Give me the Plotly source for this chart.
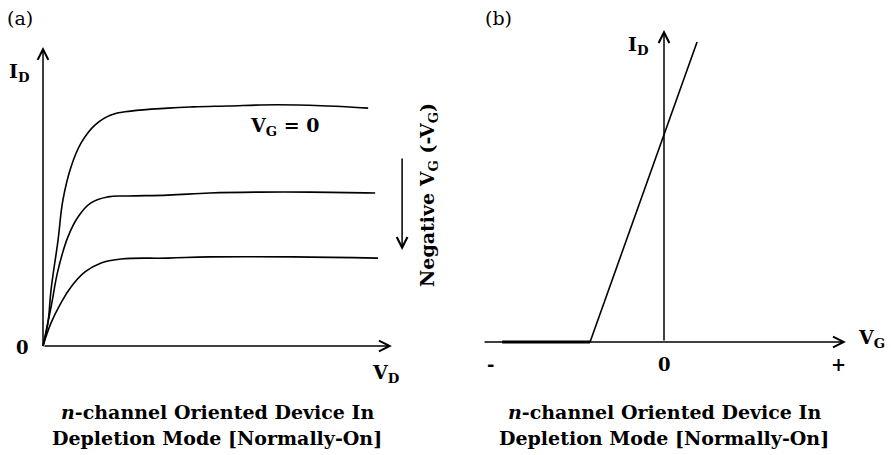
import plotly.graph_objects as go

W, H = 891, 455

# (a) Output characteristics: drain current vs drain voltage, one curve per gate bias
vd_top = [0, 0.14, 0.23, 0.43, 0.57, 0.80, 1.09, 1.49, 1.94, 2.51, 3.57, 4.29, 5.26, 6.69, 8.11, 9.29]
id_top = [0, 0.77, 1.87, 3.53, 4.87, 5.97, 6.77, 7.37, 7.70, 7.83, 7.93, 7.97, 8.00, 8.04, 8.00, 7.93]
vd_mid = [0, 0.23, 0.43, 0.71, 1.00, 1.37, 1.86, 2.43, 3.57, 4.77, 6.20, 7.63, 9.49]
id_mid = [0, 1.30, 2.53, 3.63, 4.30, 4.77, 4.97, 5.00, 5.03, 5.10, 5.13, 5.13, 5.10]
vd_low = [0, 0.23, 0.51, 0.80, 1.20, 1.66, 2.23, 3.57, 4.77, 7.14, 9.57]
id_low = [0, 0.77, 1.43, 1.97, 2.47, 2.77, 2.90, 2.93, 2.97, 2.97, 2.93]

# (b) Transfer characteristic: cut-off below pinch-off, then linear rise
vg_off = [-0.93, -0.425]
id_off = [0, 0]
vg_on = [-0.425, 0.19]
id_on = [0, 10]

# Axis extents (arrow tails and tips) in data units
a_x_axis = ([0, 9.97], [0, 0])
a_y_axis = ([0, 0], [0, 9.97])
b_x_axis = ([-1.04, 1.046], [0, 0])
b_y_axis = ([0, 0], [0, 10.4])
neg_vg_arrow = ([10.26, 10.26], [6.3, 3.2])

# Tick labels along the gate-voltage axis
b_tick_vals = [-1, 0, 1]
b_tick_text = ["-", "0", "+"]

FONT = "DejaVu Serif"
BLACK = "#000000"

fig = go.Figure()

for xs, ys in [(vd_top, id_top), (vd_mid, id_mid), (vd_low, id_low)]:
    fig.add_trace(go.Scatter(x=xs, y=ys, mode="lines",
                             line=dict(color=BLACK, width=1.6, shape="spline", smoothing=1.2),
                             xaxis="x", yaxis="y", hoverinfo="skip"))

fig.add_trace(go.Scatter(x=vg_off, y=id_off, mode="lines", line=dict(color=BLACK, width=3.2),
                         xaxis="x2", yaxis="y2", hoverinfo="skip"))
fig.add_trace(go.Scatter(x=vg_on, y=id_on, mode="lines", line=dict(color=BLACK, width=1.6),
                         xaxis="x2", yaxis="y2", hoverinfo="skip"))


def arrow(seg, xref, yref, size=1.4):
    (x0, x1), (y0, y1) = seg
    return dict(x=x1, y=y1, ax=x0, ay=y0, xref=xref, yref=yref, axref=xref, ayref=yref,
                text="", showarrow=True, arrowhead=5, arrowsize=size, arrowwidth=1.5,
                arrowcolor=BLACK, standoff=0, startstandoff=0)


def label(text, x, y, size=19, angle=0):
    # x, y given in page pixels from the top-left corner
    return dict(x=x / W, y=1 - y / H, xref="paper", yref="paper", text=text, showarrow=False,
                xanchor="center", yanchor="middle", textangle=angle,
                font=dict(family=FONT, size=size, color=BLACK))


annotations = [
    arrow(a_x_axis, "x", "y"),
    arrow(a_y_axis, "x", "y"),
    arrow(neg_vg_arrow, "x", "y"),
    arrow(b_x_axis, "x2", "y2"),
    arrow(b_y_axis, "x2", "y2"),
]

for v, t in zip(b_tick_vals, b_tick_text):
    annotations.append(dict(x=v, y=0, xref="x2", yref="y2", text=f"<b>{t}</b>", showarrow=False,
                            xanchor="center", yanchor="top", yshift=-10,
                            font=dict(family=FONT, size=18, color=BLACK)))

caption1 = "<b><i>n</i>-channel Oriented Device In</b>"
caption2 = "<b>Depletion Mode [Normally-On]</b>"

annotations += [
    label("(a)", 20, 18),
    label("<b>I<sub>D</sub></b>", 19, 72),
    label("<b>0</b>", 22, 347, size=18),
    label("<b>V<sub>D</sub></b>", 385, 373),
    label("<b>V<sub>G</sub> = 0</b>", 284, 126),
    label("<b>Negative V<sub>G</sub> (-V<sub>G</sub>)</b>", 428, 195, angle=-90),
    label(caption1, 217, 412),
    label(caption2, 217, 438),
    label("(b)", 498, 18),
    label("<b>I<sub>D</sub></b>", 638, 46),
    label("<b>V<sub>G</sub></b>", 871, 338),
    label(caption1, 664, 412),
    label(caption2, 664, 438),
]

# Pixel anchors: origin of each panel and pixels per data unit
a_x0, a_y0, a_sx, a_sy = 43, 346, 35.0, 30.0
b_x0, b_y0, b_sx, b_sy = 664, 342, 174.0, 30.0
split = 445

hidden = dict(visible=False, showgrid=False, zeroline=False, fixedrange=True)

fig.update_layout(
    width=W, height=H,
    margin=dict(l=0, r=0, t=0, b=0),
    paper_bgcolor="white", plot_bgcolor="white",
    showlegend=False,
    xaxis=dict(domain=[0, split / W], range=[(0 - a_x0) / a_sx, (split - a_x0) / a_sx], **hidden),
    yaxis=dict(domain=[0, 1], range=[(a_y0 - H) / a_sy, a_y0 / a_sy], **hidden),
    xaxis2=dict(domain=[split / W, 1], range=[(split - b_x0) / b_sx, (W - b_x0) / b_sx], anchor="y2", **hidden),
    yaxis2=dict(domain=[0, 1], range=[(b_y0 - H) / b_sy, b_y0 / b_sy], anchor="x2", **hidden),
    annotations=annotations,
)

fig.write_html("out.html")
